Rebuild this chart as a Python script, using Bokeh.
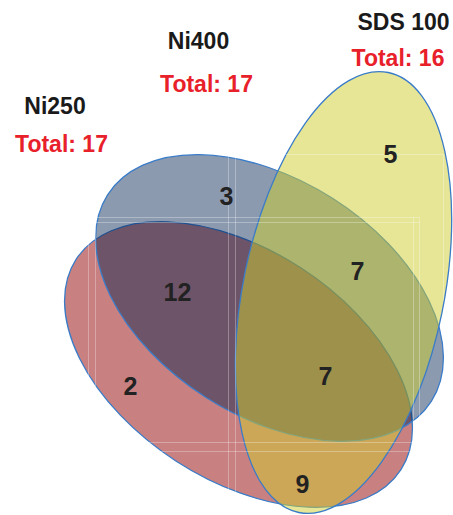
import math
from bokeh.plotting import figure
from bokeh.models import Range1d, ColumnDataSource
from bokeh.core.properties import value
from bokeh.embed import file_html
from bokeh.resources import INLINE

# ---- data ----
set_names = ["Ni250", "Ni400", "SDS 100"]
set_totals = [17, 17, 16]
region_names = ["Ni250 only", "Ni400 only", "SDS 100 only",
                "Ni250 & Ni400", "Ni400 & SDS 100", "Ni250 & SDS 100", "all three"]
region_counts = [2, 3, 5, 12, 7, 9, 7]

# ---- layout (pixel-based, y measured from top of the picture) ----
W, H = 453, 515
def X(px): return px
def Y(py): return H - py

# ellipses: center px, center py, width, height, angle (deg), fill, alpha
ell_cx = [238, 269, 343]
ell_cy = [364, 297.5, 292]
ell_w = [387, 384, 449]
ell_h = [230, 236, 201]
ell_ang = [-33, -32.5, 78.5]
ell_fill = ["#C88080", "#00204E", "#CDCD2D"]
ell_alpha = [1.0, 0.45, 0.5]

name_pos = [(54.5, 105), (198, 40), (403, 21)]
total_pos = [(61, 143), (206, 83), (397.5, 57)]
count_pos = [(130, 385), (226, 195), (390, 153), (177, 291), (357, 270), (302, 483), (325, 375)]

p = figure(width=W, height=H, output_backend="svg", toolbar_location=None,
           x_range=Range1d(0, W), y_range=Range1d(0, H),
           min_border=0, outline_line_color=None)
p.axis.visible = False
p.grid.visible = False
p.background_fill_color = "white"
p.border_fill_color = "white"

for i in range(3):
    p.ellipse(x=[X(ell_cx[i])], y=[Y(ell_cy[i])], width=[ell_w[i]], height=[ell_h[i]],
              angle=[math.radians(ell_ang[i])],
              fill_color=ell_fill[i], fill_alpha=ell_alpha[i],
              line_color="#3A7CC8", line_width=1.3)

# faint white frame lines (slide artefact)
seg_x0 = [X(228), X(235), X(88), X(95), X(413), X(419), X(88), X(88), X(88), X(88), X(235), X(443)]
seg_y0 = [Y(155), Y(154), Y(215), Y(215), Y(217), Y(217), Y(217), Y(222), Y(442), Y(451), Y(154), Y(154)]
seg_x1 = [X(228), X(235), X(88), X(95), X(413), X(419), X(419), X(419), X(419), X(419), X(443), X(443)]
seg_y1 = [Y(505), Y(505), Y(505), Y(505), Y(505), Y(505), Y(217), Y(222), Y(442), Y(451), Y(154), Y(300)]
p.segment(seg_x0, seg_y0, seg_x1, seg_y1, line_color="white", line_alpha=0.3, line_width=1)

font = value("Liberation Sans")

src_names = ColumnDataSource(dict(x=[X(a) for a, b in name_pos], y=[Y(b) for a, b in name_pos],
                                  t=set_names))
p.text(x="x", y="y", text="t", source=src_names, text_font=font, text_font_style="bold",
       text_font_size="23px", text_color="#1A1A1A", text_align="center", text_baseline="middle")

src_tot = ColumnDataSource(dict(x=[X(a) for a, b in total_pos], y=[Y(b) for a, b in total_pos],
                                t=["Total: %d" % v for v in set_totals]))
p.text(x="x", y="y", text="t", source=src_tot, text_font=font, text_font_style="bold",
       text_font_size="23px", text_color="#E8202A", text_align="center", text_baseline="middle")

src_cnt = ColumnDataSource(dict(x=[X(a) for a, b in count_pos], y=[Y(b) for a, b in count_pos],
                                t=[str(v) for v in region_counts]))
p.text(x="x", y="y", text="t", source=src_cnt, text_font=font, text_font_style="bold",
       text_font_size="25px", text_color="#222222", text_align="center", text_baseline="middle")

open("out.html", "w").write(file_html(p, INLINE))
